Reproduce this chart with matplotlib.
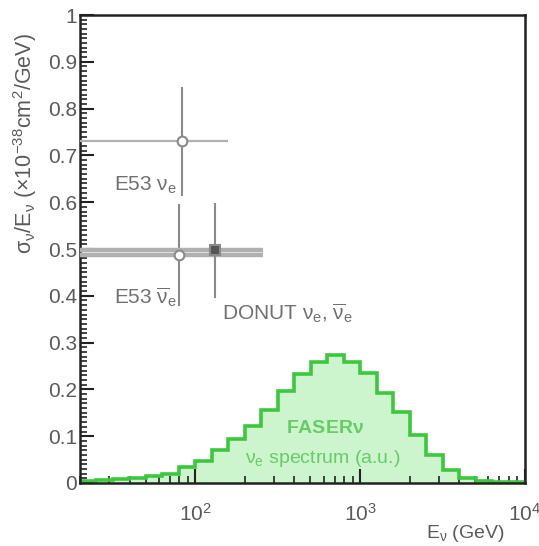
import numpy as np
import matplotlib.pyplot as plt
from matplotlib.ticker import MultipleLocator, LogLocator, NullFormatter

plt.rcParams['font.family'] = ['Liberation Sans', 'DejaVu Sans']
plt.rcParams['mathtext.fontset'] = 'custom'
plt.rcParams['mathtext.rm'] = 'Liberation Sans'
plt.rcParams['mathtext.it'] = 'Liberation Sans'
plt.rcParams['mathtext.default'] = 'regular'

# FASERnu spectrum, 10 bins per decade (log10 edges 1.3 .. 4.0)
log_edges = np.arange(1.3, 4.0001, 0.1)
spectrum = [0.005, 0.006, 0.008, 0.010, 0.014, 0.020, 0.034, 0.046, 0.070,
            0.094, 0.122, 0.156, 0.197, 0.232, 0.258, 0.274, 0.259, 0.235,
            0.192, 0.152, 0.103, 0.060, 0.028, 0.010, 0.004, 0.003, 0.002]

# measurements: energy, value, x-range, y-error
e53_nue = dict(x=83, y=0.73, xlo=15, xhi=159, yerr=0.115)
e53_nuebar = dict(x=80, y=0.487, xlo=15, xhi=259, yerr=0.107)
donut = dict(x=132, y=0.497, xlo=15, xhi=259, yerr=0.10)

fig = plt.figure(figsize=(5.39, 5.46), dpi=100)
ax = fig.add_axes([0.1484, 0.1154, 0.8256, 0.8571])

edges = 10 ** log_edges
ax.stairs(spectrum, edges, fill=True, color='#cdf5cd', zorder=1)
ax.stairs(spectrum, edges, color='#3cc83c', lw=2.6, zorder=2)

grey = '#8a8a8a'
for p, mk, fc, hw in [(e53_nuebar, 'o', 'white', 3.2), (donut, 's', '#555555', 3.2),
                      (e53_nue, 'o', 'white', 1.6)]:
    ax.plot([p['xlo'], p['xhi']], [p['y'], p['y']], color='#b0b0b0',
            lw=hw, zorder=3, solid_capstyle='butt')
    ax.plot([p['x'], p['x']], [p['y'] - p['yerr'], p['y'] + p['yerr']],
            color=grey, lw=1.5, zorder=3)
    ax.plot(p['x'], p['y'], marker=mk, ms=7, mfc=fc, mec=grey, mew=1.5,
            zorder=4)

ax.set_xscale('log')
ax.set_xlim(20, 1e4)
ax.set_ylim(0, 1)

txt = '#707070'
ax.text(32, 0.637, r'E53 $\nu_e$', fontsize=15, color=txt, va='center')
ax.text(32, 0.397, r'E53 $\overline{\nu}_e$', fontsize=15, color=txt, va='center')
ax.text(146, 0.362, r'DONUT $\nu_e$, $\overline{\nu}_e$', fontsize=15, color=txt,
        va='center')
green = '#66cc66'
ax.text(614, 0.1175, r'FASER$\nu$', fontsize=14, color=green, ha='center',
        va='center', fontweight='bold')
ax.text(590, 0.053, r'$\nu_e$ spectrum (a.u.)', fontsize=14, color=green,
        ha='center', va='center')

ax.set_yticks(np.arange(0, 1.01, 0.1))
ax.set_yticklabels(['0', '0.1', '0.2', '0.3', '0.4', '0.5', '0.6', '0.7',
                    '0.8', '0.9', '1'])
ax.yaxis.set_minor_locator(MultipleLocator(0.01))
ax.xaxis.set_major_locator(LogLocator(base=10, numticks=10))
ax.xaxis.set_minor_locator(LogLocator(base=10, subs=np.arange(2, 10), numticks=20))
ax.xaxis.set_minor_formatter(NullFormatter())

ax.tick_params(axis='both', which='both', direction='in', top=False,
               right=False, colors='#222222', labelcolor='#5a5a5a',
               labelsize=15)
ax.tick_params(axis='y', which='major', length=10, width=1.5, pad=2)
ax.tick_params(axis='y', which='minor', length=5, width=1.2)
ax.tick_params(axis='x', which='major', length=10, width=1.5, pad=14)
ax.tick_params(axis='x', which='minor', length=5, width=1.2)
for s in ax.spines.values():
    s.set_linewidth(1.8)
    s.set_color('#222222')

fig.text(0.046, 0.94, r'$\sigma_\nu/E_\nu$ ($\times10^{-38}$cm$^2$/GeV)',
         fontsize=15.5, color='#5a5a5a', rotation=90, ha='center', va='top')
fig.text(0.937, 0.022, r'E$_\nu$ (GeV)', fontsize=14, color='#5a5a5a',
         ha='right', va='center')

fig.savefig('out.png', dpi=100)
